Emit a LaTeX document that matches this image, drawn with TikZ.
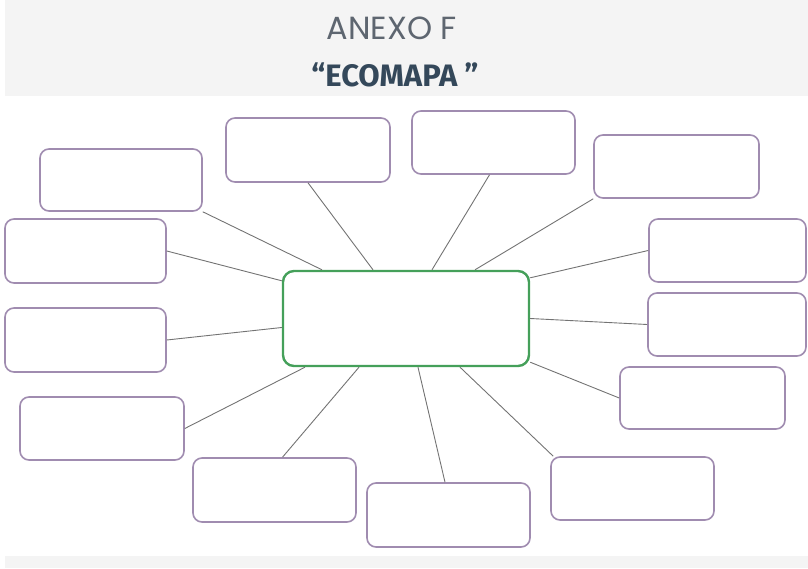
\documentclass[tikz,border=0pt]{standalone}
\usepackage{fontspec}
\setmainfont{Poppins}
\newfontfamily\fira{Fira Sans}
\usepackage{tikz}

\definecolor{lila}{HTML}{A08CB0}
\definecolor{verde}{HTML}{45A05A}
\definecolor{banda}{HTML}{F4F4F4}
\definecolor{titulo}{HTML}{5E6670}
\definecolor{tituloB}{HTML}{34485A}

\begin{document}
\begin{tikzpicture}[x=1pt,y=-1pt,
  caja/.style={draw=lila,line width=1.6pt,rounded corners=9pt,fill=white,minimum width=163pt,minimum height=63pt},
  centro/.style={draw=verde,line width=2.4pt,rounded corners=11pt,fill=white,minimum width=246pt,minimum height=95pt},
  enlace/.style={draw=black!55,line width=0.9pt}]
\useasboundingbox (0,0) rectangle (808,569);
\fill[banda] (5,0) rectangle (808,96);
\fill[banda] (5,556) rectangle (808,568);

\node[text=titulo,font=\fontsize{32}{34}\selectfont,anchor=base] (t) at (392,40) {ANEXO F};
\node[text=tituloB,font=\fira\fontsize{31}{33}\selectfont\bfseries,anchor=base] (s) at (395,87) {“ECOMAPA ”};

\node[centro] (c) at (406,318.5) {};

\node[caja,minimum width=162pt,minimum height=62pt] (tl) at (121,180) {};
\node[caja,minimum width=161pt,minimum height=64pt] (l1) at (85.5,251) {};
\node[caja,minimum width=164pt,minimum height=64pt] (t1) at (308,150) {};
\node[caja] (t2) at (493.5,142.5) {};
\node[caja,minimum width=165pt] (tr) at (676.5,166.5) {};
\node[caja,minimum width=157pt] (r1) at (727.5,250.5) {};
\node[caja,minimum width=158pt] (r2) at (727,324.5) {};
\node[caja,minimum width=165pt,minimum height=62pt] (r3) at (702.5,398) {};
\node[caja] (br) at (632.5,488.5) {};
\node[caja,minimum height=64pt] (bc) at (448.5,515) {};
\node[caja,minimum height=64pt] (bl) at (274.5,490) {};
\node[caja,minimum width=164pt] (l3) at (102,428.5) {};
\node[caja,minimum width=161pt,minimum height=64pt] (l2) at (85.5,340) {};

\draw[enlace] (tl.south east)--([xshift=-84pt]c.north);
\draw[enlace] (l1.east)--([yshift=-11pt]c.north west);
\draw[enlace] (t1.south)--([xshift=-33pt]c.north);
\draw[enlace] ([xshift=-4pt]t2.south)--([xshift=26pt]c.north);
\draw[enlace] (tr.south west)--([xshift=69pt]c.north);
\draw[enlace] (r1.west)--([yshift=-8pt]c.north east);
\draw[enlace] (r2.west)--(c.east);
\draw[enlace] (r3.west)--([yshift=5pt]c.south east);
\draw[enlace] ([xshift=3pt]br.north west)--([xshift=54pt]c.south);
\draw[enlace] ([xshift=-3.5pt]bc.north)--([xshift=12pt]c.south);
\draw[enlace] ([xshift=8pt]bl.north)--([xshift=-47pt]c.south);
\draw[enlace] (l3.east)--([xshift=-101pt]c.south);
\draw[enlace] (l2.east)--([yshift=-9pt]c.west);
\end{tikzpicture}
\end{document}
